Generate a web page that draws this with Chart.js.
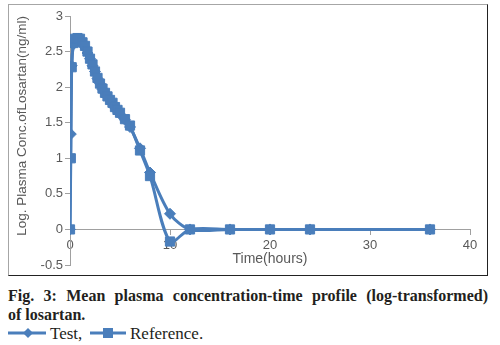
<!DOCTYPE html>
<html>
<head>
<meta charset="utf-8">
<script src="https://cdn.jsdelivr.net/npm/chart.js@4"></script>
<style>
  body { margin: 0; background: #fff; width: 500px; height: 345px; position: relative; overflow: hidden; }
  #box { position: absolute; left: 8px; top: 4px; width: 478px; height: 270px;
         border: 1px solid; border-color: #a6a6a6 #222 #222 #a6a6a6; }
  #box canvas { display: block; }
  .cap { position: absolute; left: 8px; width: 480px; font-family: "Liberation Serif", serif;
         color: #231f20; line-height: 19px; white-space: nowrap; }
  #line1 { top: 286px; font-weight: bold; font-size: 16px; text-align: justify; text-align-last: justify; white-space: normal; }
  #line2 { top: 305px; font-weight: bold; font-size: 16px; }
  #legend { top: 324px; font-size: 17px; }
  #legend svg { position: absolute; top: 3px; }
  #legend span { position: absolute; top: 0; }
</style>
</head>
<body>
<div id="box"><canvas id="pkChart" width="478" height="270"></canvas></div>
<div class="cap" id="line1">Fig. 3: Mean plasma concentration-time profile (log-transformed)</div>
<div class="cap" id="line2">of losartan.</div>
<div class="cap" id="legend">
  <svg style="left:0" width="40" height="12"><line x1="0" y1="6" x2="38" y2="6" stroke="#4a7ebb" stroke-width="3"/><polygon points="20,1 25,6 20,11 15,6" fill="#4a7ebb"/></svg>
  <span style="left:42px">Test,</span>
  <svg style="left:82px" width="38" height="12"><line x1="0" y1="6" x2="36" y2="6" stroke="#4a7ebb" stroke-width="3"/><rect x="13" y="1" width="10" height="10" fill="#4a7ebb"/></svg>
  <span style="left:122px">Reference.</span>
</div>
<script>
// sampling times (hours)
const times = [0, 0.08, 0.17, 0.33, 0.5, 0.75, 1, 1.25, 1.5, 1.75, 2, 2.25, 2.5, 2.75, 3, 3.25, 3.5, 3.75, 4, 4.25, 4.5, 4.75, 5, 5.5, 6, 7, 8, 10, 12, 16, 20, 24, 36];
// log plasma concentration
const testVals = [0, 1.34, 2.3, 2.6, 2.66, 2.68, 2.66, 2.62, 2.56, 2.48, 2.4, 2.3, 2.22, 2.12, 2.05, 1.97, 1.92, 1.86, 1.82, 1.77, 1.71, 1.66, 1.62, 1.54, 1.44, 1.14, 0.8, 0.22, 0, 0, 0, 0, 0];
const refVals = [0, 1.0, 2.28, 2.62, 2.68, 2.69, 2.68, 2.63, 2.58, 2.5, 2.4, 2.32, 2.22, 2.13, 2.05, 1.98, 1.92, 1.87, 1.82, 1.78, 1.72, 1.68, 1.64, 1.55, 1.46, 1.11, 0.75, -0.17, 0, 0, 0, 0, 0];
const xTickValues = [0, 10, 20, 30, 40];
const yTickValues = [-0.5, 0, 0.5, 1, 1.5, 2, 2.5, 3];

const blue = "#4a7ebb";
const axisGray = "#a0a0a0";
const textGray = "#595959";

Chart.defaults.font.family = "'Liberation Sans', Arial, sans-serif";
Chart.defaults.color = textGray;

function points(vals) {
  return times.map((t, i) => ({ x: t, y: vals[i] }));
}

const ctx = document.getElementById("pkChart").getContext("2d");
new Chart(ctx, {
  type: "line",
  data: {
    datasets: [
      {
        label: "Reference",
        data: points(refVals),
        borderColor: blue,
        backgroundColor: blue,
        borderWidth: 3,
        pointStyle: "rect",
        pointRadius: 6.5,
        pointBorderWidth: 1,
        tension: 0.3,
      },
      {
        label: "Test",
        data: points(testVals),
        borderColor: blue,
        backgroundColor: blue,
        borderWidth: 3,
        pointStyle: "rectRot",
        pointRadius: 5.5,
        pointBorderWidth: 1,
        tension: 0.3,
      },
    ],
  },
  options: {
    responsive: false,
    animation: false,
    layout: { padding: { left: 0, right: 17, top: 11, bottom: 10 } },
    plugins: { legend: { display: false }, tooltip: { enabled: false } },
    scales: {
      x: {
        type: "linear",
        position: { y: 0 },
        min: 0,
        max: 40,
        afterBuildTicks: (axis) => { axis.ticks = xTickValues.map((v) => ({ value: v })); },
        afterFit: (axis) => { axis.height = 0; },
        grid: { display: true, drawOnChartArea: false, drawTicks: true, tickLength: 5, color: axisGray },
        border: { color: axisGray, width: 1 },
        ticks: { font: { size: 13 }, color: textGray, padding: 3, maxRotation: 0, callback: (v) => String(v) },
        title: { display: true, text: "Time(hours)", font: { size: 14 }, color: textGray, padding: { top: 0, bottom: -38 } },
      },
      y: {
        type: "linear",
        min: -0.5,
        max: 3,
        afterBuildTicks: (axis) => { axis.ticks = yTickValues.map((v) => ({ value: v })); },
        afterFit: (axis) => { axis.width = 61; },
        grid: { display: true, drawOnChartArea: false, drawTicks: true, tickLength: 5, color: axisGray },
        border: { color: axisGray, width: 1 },
        ticks: { font: { size: 13 }, color: textGray, padding: 2, callback: (v) => String(v) },
        title: { display: true, text: "Log. Plasma Conc.ofLosartan(ng/ml)", align: "end", font: { size: 13.5 }, color: textGray, padding: { top: 5, bottom: 0 } },
      },
    },
  },
});
</script>
</body>
</html>
